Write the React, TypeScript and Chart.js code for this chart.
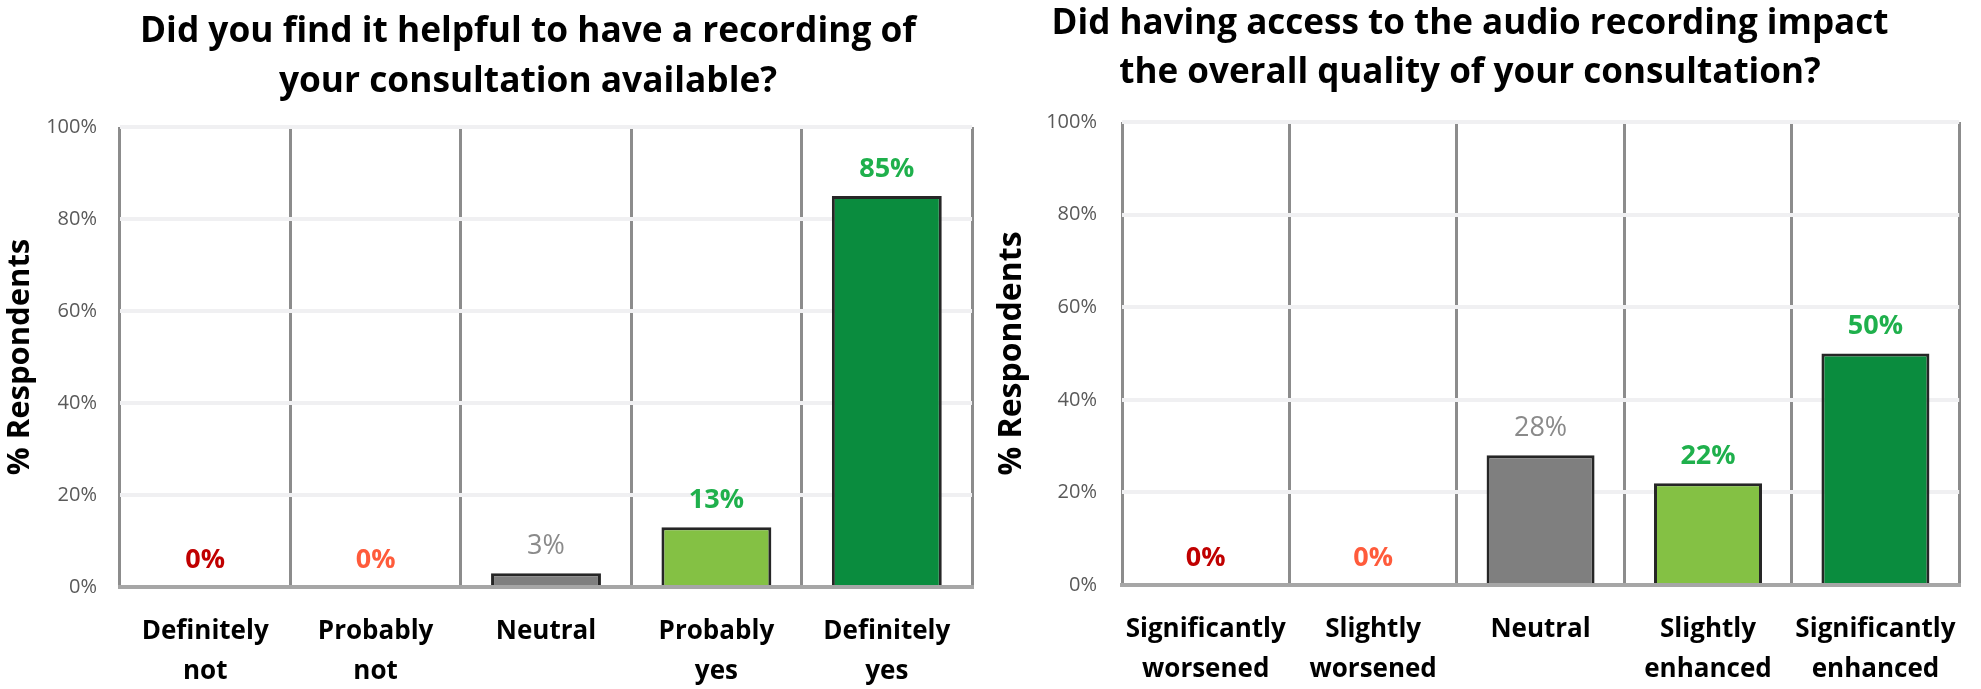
import React, { useEffect, useRef } from "react";
import { Chart, registerables } from "chart.js";

Chart.register(...registerables);

// ---------- data ----------
const leftTitle = ["Did you find it helpful to have a recording of", "your consultation available?"];
const leftCategories = [["Definitely", "not"], ["Probably", "not"], ["Neutral"], ["Probably", "yes"], ["Definitely", "yes"]];
const leftValues = [0, 0, 3, 13, 85];

const rightTitle = ["Did having access to the audio recording impact", "the overall quality of your consultation?"];
const rightCategories = [["Significantly", "worsened"], ["Slightly", "worsened"], ["Neutral"], ["Slightly", "enhanced"], ["Significantly", "enhanced"]];
const rightValues = [0, 0, 28, 22, 50];

const yTickValues = [0, 20, 40, 60, 80, 100];
const yAxisTitle = "% Respondents";

// ---------- styles ----------
const barColors = ["#c00000", "#ff5b3b", "#7f7f7f", "#84c144", "#0a8c3e"];
const labelColors = ["#c00000", "#ff5b3b", "#8a8a8a", "#1fb04c", "#1fb04c"];
const labelBold = [true, true, false, true, true];

const FONT = "'Open Sans', 'Noto Sans', sans-serif";

type Panel = {
  title: string[];
  cats: string[][];
  values: number[];
  left: number;
  width: number;
  area: { left: number; top: number; right: number; bottom: number };
  titleCenter: number;
  titleBaselines: number[];
  titleWidth: number;
  yTitleSize: number;
  yTitleCenter: number;
  tickPad: number;
};

const HEIGHT = 689;

const panels: Panel[] = [
  {
    title: leftTitle,
    cats: leftCategories,
    values: leftValues,
    left: 0,
    width: 990,
    area: { left: 120, top: 127, right: 972, bottom: 587 },
    titleCenter: 528,
    titleBaselines: [42, 92],
    titleWidth: 776,
    yTitleSize: 31,
    yTitleCenter: 20,
    tickPad: 23,
  },
  {
    title: rightTitle,
    cats: rightCategories,
    values: rightValues,
    left: 990,
    width: 991,
    area: { left: 132, top: 122, right: 986, bottom: 585 },
    titleCenter: 480,
    titleBaselines: [34, 83],
    titleWidth: 837,
    yTitleSize: 32,
    yTitleCenter: 22,
    tickPad: 25,
  },
];

function makeConfig(p: Panel): any {
  const titlePlugin = {
    id: "customTitle",
    afterDraw(chart: any) {
      const ctx = chart.ctx;
      ctx.save();
      ctx.font = `bold 36px ${FONT}`;
      const w = ctx.measureText(p.title[0]).width;
      const sx = p.titleWidth / w;
      ctx.fillStyle = "#000";
      ctx.textAlign = "center";
      ctx.textBaseline = "alphabetic";
      p.title.forEach((line, i) => {
        ctx.save();
        ctx.translate(p.titleCenter, p.titleBaselines[i]);
        ctx.scale(sx, 1);
        ctx.fillText(line, 0, 0);
        ctx.restore();
      });
      ctx.restore();
    },
  };
  const labelPlugin = {
    id: "barLabels",
    afterDatasetsDraw(chart: any) {
      const ctx = chart.ctx;
      const meta = chart.getDatasetMeta(0);
      ctx.save();
      ctx.textAlign = "center";
      ctx.textBaseline = "middle";
      meta.data.forEach((el: any, i: number) => {
        ctx.font = `${labelBold[i] ? "bold " : ""}27px ${FONT}`;
        ctx.fillStyle = labelColors[i];
        ctx.fillText(`${p.values[i]}%`, el.x, el.y - 27);
      });
      ctx.restore();
    },
  };
  return {
    type: "bar",
    data: {
      labels: p.cats,
      datasets: [
        {
          data: p.values,
          backgroundColor: barColors,
          borderColor: "#262626",
          borderWidth: (c: any) => (c.raw === 0 ? 0 : 3),
          barPercentage: 0.645,
          categoryPercentage: 1,
        },
      ],
    },
    options: {
      animation: false,
      responsive: false,
      maintainAspectRatio: false,
      layout: {
        padding: { top: p.area.top, right: p.width - p.area.right, left: 0, bottom: 0 },
      },
      plugins: {
        legend: { display: false },
        tooltip: { enabled: false },
        title: { display: false },
      },
      scales: {
        x: {
          z: 1,
          afterFit(scale: any) {
            scale.height = HEIGHT - p.area.bottom;
          },
          grid: { offset: true, color: "#8c8c8c", lineWidth: 3, drawTicks: false },
          border: { display: true, color: "#a6a6a6", width: 4 },
          ticks: {
            autoSkip: false,
            maxRotation: 0,
            minRotation: 0,
            padding: 25,
            color: "#000",
            font: { family: FONT, size: 26, weight: "bold", lineHeight: "40px" },
          },
        },
        y: {
          min: 0,
          max: 100,
          afterFit(scale: any) {
            scale.width = p.area.left;
          },
          afterBuildTicks(scale: any) {
            scale.ticks = yTickValues.map((v) => ({ value: v }));
          },
          grid: { color: "#f0f0f2", lineWidth: 4, drawTicks: false },
          border: { display: false },
          ticks: {
            padding: p.tickPad,
            color: "#595959",
            font: { family: FONT, size: 20 },
            callback: (v: any) => `${v}%`,
          },
          title: {
            display: true,
            text: yAxisTitle,
            color: "#000",
            font: { family: FONT, size: p.yTitleSize, weight: "bold", lineHeight: 1 },
            padding: { top: p.yTitleCenter - p.yTitleSize / 2, bottom: 0 },
          },
        },
      },
    },
    plugins: [titlePlugin, labelPlugin],
  };
}

function BarPanel({ p }: { p: Panel }) {
  const ref = useRef<HTMLCanvasElement | null>(null);
  useEffect(() => {
    if (!ref.current) return;
    const chart = new Chart(ref.current, makeConfig(p));
    return () => chart.destroy();
  }, [p]);
  return (
    <canvas
      ref={ref}
      width={p.width}
      height={HEIGHT}
      style={{ position: "absolute", left: p.left, top: 0, width: p.width, height: HEIGHT }}
    />
  );
}

export default function App() {
  return (
    <div style={{ position: "absolute", left: 0, top: 0, width: 1981, height: HEIGHT, background: "#fff" }}>
      {panels.map((p, i) => (
        <BarPanel key={i} p={p} />
      ))}
    </div>
  );
}
